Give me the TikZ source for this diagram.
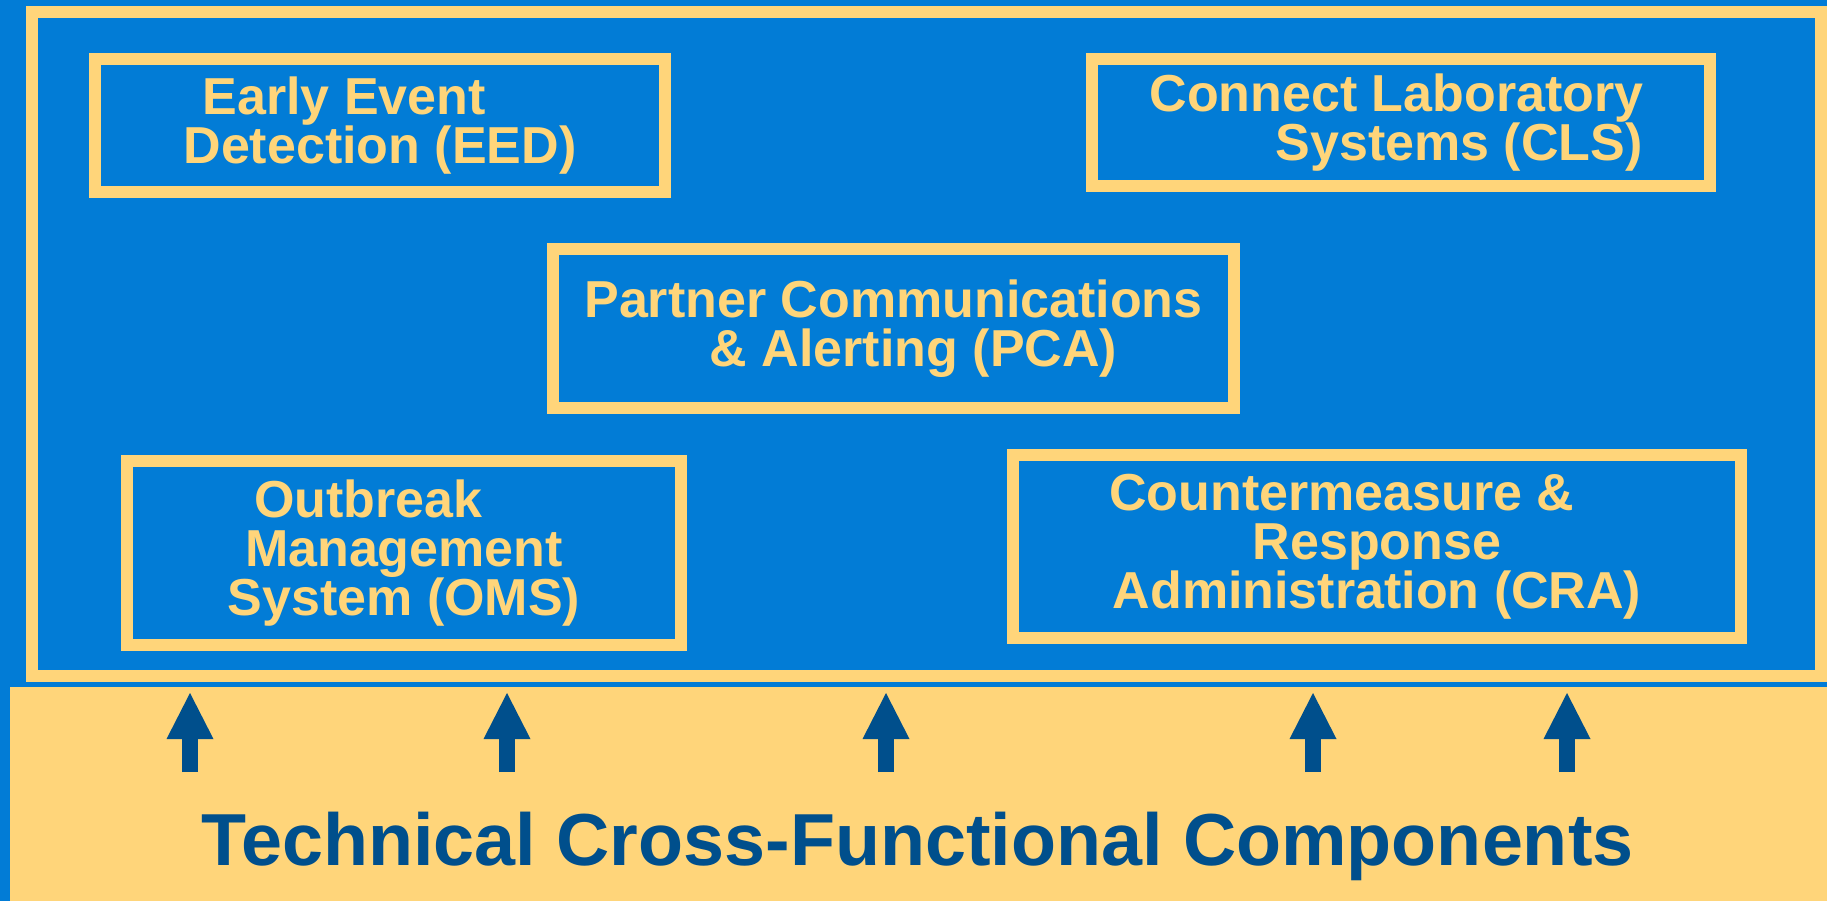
\documentclass[tikz,border=0pt]{standalone}
\usepackage{fontspec}
\setmainfont{Liberation Sans}
\usetikzlibrary{arrows.meta,positioning}

\definecolor{slideblue}{RGB}{2,124,214}
\definecolor{boxyellow}{RGB}{255,213,122}
\definecolor{arrowblue}{RGB}{0,79,140}

\begin{document}
\begin{tikzpicture}[
    x=0.5pt, y=-0.5pt,
    sysbox/.style={draw=boxyellow, line width=6.2pt, rectangle, inner sep=0pt, align=center, text=boxyellow, font=\fontsize{26}{24.5}\selectfont\bfseries},
    sysframe/.style={draw=boxyellow, line width=6pt, rectangle, inner sep=0pt},
    panel/.style={fill=boxyellow, rectangle, inner sep=0pt},
    uparrow/.style={draw=arrowblue, line width=7.75pt, -{Triangle[width=23.5pt, length=23pt, line width=0pt]}, shorten >=5.5pt},
    title/.style={text=arrowblue, font=\fontsize{36.85}{40}\selectfont\bfseries},
]

\useasboundingbox (0,0) rectangle (1827,901);
\fill[slideblue] (0,0) rectangle (1827,901);

% Cross-functional panel at the bottom
\node[panel, minimum width=908.7pt, minimum height=107pt, anchor=north west] (tcf) at (9.6,687) {};
\node[title, anchor=base] (tcflabel) at (917.6,865.7) {Technical Cross-Functional Components};

% Outer frame
\node[sysframe, minimum width=894.5pt, minimum height=332pt] (sys) at (926.5,344) {};

% Systems
\node[sysbox, minimum width=285pt, minimum height=66.5pt] (eed) at (380,125.5)
  {Early Event\hspace*{35.7pt}\mbox{}\\Detection (EED)};
\node[sysbox, minimum width=309pt, minimum height=63.5pt] (cls) at (1401,122.5)
  {Connect Laboratory\hspace*{4.5pt}\mbox{}\\\hspace*{58pt}Systems (CLS)};
\node[sysbox, minimum width=340.5pt, minimum height=79.5pt] (pca) at (893.5,328.5)
  {Partner Communications\\\hspace*{20pt}\& Alerting (PCA)};
\node[sysbox, minimum width=277pt, minimum height=92pt] (oms) at (404,553)
  {Outbreak\hspace*{35.6pt}\mbox{}\\Management\\System (OMS)};
\node[sysbox, minimum width=364pt, minimum height=91.5pt] (cra) at (1377,546.5)
  {Countermeasure \&\hspace*{35pt}\mbox{}\\Response\\Administration (CRA)};

% Arrows up into the frame
\foreach \x [count=\i] in {190,507,886,1313,1567} {
  \coordinate (src\i) at (\x,772);
  \draw[uparrow] (src\i) -- (src\i |- sys.south);
}

\end{tikzpicture}
\end{document}
